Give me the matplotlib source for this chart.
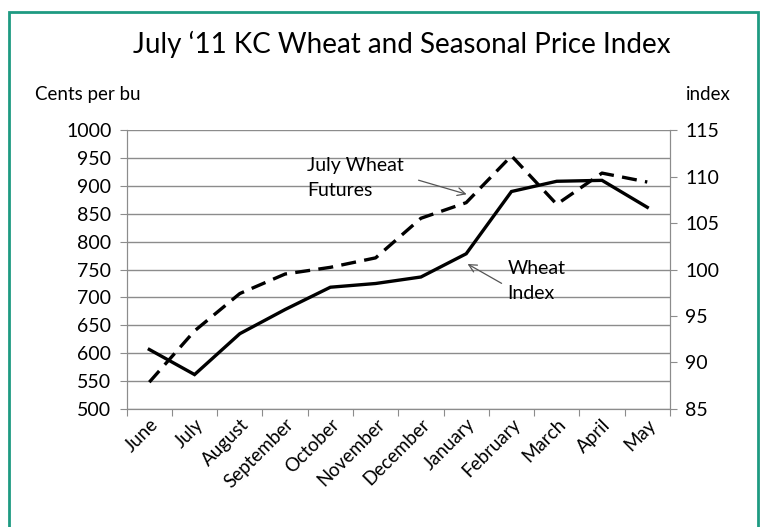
import matplotlib.pyplot as plt
from matplotlib.patches import Rectangle

plt.rcParams['font.family'] = ['Lato', 'DejaVu Sans']

months = ['June', 'July', 'August', 'September', 'October', 'November',
          'December', 'January', 'February', 'March', 'April', 'May']
futures = [548, 640, 707, 742, 754, 771, 842, 870, 954, 867, 923, 907]   # cents per bu
wheat_index = [91.4, 88.7, 93.1, 95.7, 98.1, 98.5, 99.2, 101.7, 108.4, 109.5, 109.6, 106.7]

fig = plt.figure(figsize=(7.63, 5.27), dpi=100)
ax = fig.add_axes([0.166, 0.224, 0.712, 0.529])
ax2 = ax.twinx()

x = list(range(len(months)))
ax.plot(x, futures, color='black', lw=2.4, ls=(0, (4.5, 2.5)), zorder=3)
ax2.plot(x, wheat_index, color='black', lw=2.4, solid_joinstyle='miter', zorder=3)

ax.set_xlim(-0.5, len(months) - 0.5)
ax.set_ylim(500, 1000)
ax.set_yticks(range(500, 1001, 50))
ax2.set_ylim(85, 115)
ax2.set_yticks(range(85, 116, 5))

# tick marks sit between the months, labels under each month
ax.set_xticks([i - 0.5 for i in range(len(months) + 1)], minor=False)
ax.set_xticklabels([])
ax.set_xticks(x, minor=True)
ax.set_xticklabels(months, minor=True, rotation=45, ha='right', va='top',
                   rotation_mode='anchor', fontsize=13.5)
ax.tick_params(axis='x', which='minor', length=0, pad=5)
ax.tick_params(axis='x', which='major', length=5, color='#8c8c8c')

ax.grid(axis='y', color='#8c8c8c', lw=1)
ax.set_axisbelow(True)
for a in (ax, ax2):
    a.spines['top'].set_visible(False)
    for s in ('left', 'right', 'bottom'):
        a.spines[s].set_color('#8c8c8c')
ax.tick_params(axis='y', length=5, color='#8c8c8c', labelsize=14, pad=6)
ax2.tick_params(axis='y', length=5, color='#8c8c8c', labelsize=14, pad=6)

fig.text(0.527, 0.915, 'July \u201811 KC Wheat and Seasonal Price Index',
         ha='center', va='center', fontsize=20)
fig.text(0.046, 0.82, 'Cents per bu', ha='left', va='center', fontsize=13.5)
fig.text(0.958, 0.82, 'index', ha='right', va='center', fontsize=13.5)

ax.annotate('July Wheat\nFutures', xy=(7.01, 885), xytext=(3.49, 914),
            ha='left', va='center', fontsize=14, linespacing=1.55,
            arrowprops=dict(arrowstyle='->', color='#555555', lw=0.9,
                            shrinkA=0, shrinkB=0, relpos=(1.15, 0.45)))
ax.annotate('Wheat\nIndex', xy=(7.03, 760), xytext=(7.91, 729),
            ha='left', va='center', fontsize=14, linespacing=1.55,
            arrowprops=dict(arrowstyle='->', color='#555555', lw=0.9,
                            shrinkA=0, shrinkB=0, relpos=(-0.1, 0.45)))

fig.patches.append(Rectangle((9 / 763, -0.01), 749 / 763, 1.01 - 12 / 527,
                             transform=fig.transFigure, fill=False,
                             edgecolor='#1e9a82', lw=2))

fig.savefig('out.png', dpi=100)
